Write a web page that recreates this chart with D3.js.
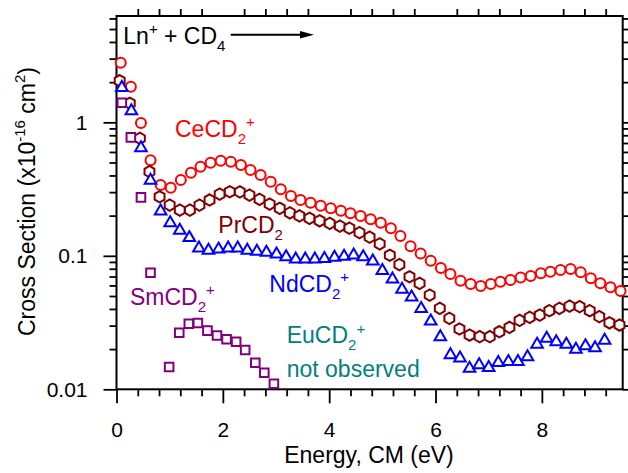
<!DOCTYPE html>
<html>
<head>
<meta charset="utf-8">
<script src="https://cdn.jsdelivr.net/npm/d3@7"></script>
<style>
    body { margin: 0; background: #fff; }
    svg { display: block; font-family: "Liberation Sans", Arial, sans-serif; }
</style>
</head>
<body>
<svg id="chart" width="628" height="473"></svg>
<script>
// cross sections (units of 1e-16 cm^2)
var ceEnergy = [0.08,0.27,0.46,0.64,0.83,1.02,1.21,1.40,1.58,1.77,1.96,2.15,2.34,2.52,2.71,2.90,3.09,3.28,3.46,3.65,3.84,4.03,4.22,4.40,4.59,4.78,4.97,5.16,5.34,5.53,5.72,5.91,6.10,6.28,6.47,6.66,6.85,7.04,7.22,7.41,7.60,7.79,7.98,8.16,8.35,8.54,8.73,8.92,9.10,9.29,9.48];
var ceSigma = [2.79,1.85,0.99,0.52,0.339,0.324,0.37,0.419,0.465,0.498,0.515,0.507,0.479,0.439,0.403,0.359,0.315,0.281,0.262,0.250,0.237,0.227,0.218,0.208,0.199,0.188,0.177,0.161,0.141,0.118,0.104,0.092,0.081,0.073,0.065,0.0615,0.0594,0.0615,0.064,0.0659,0.0688,0.0706,0.074,0.076,0.0783,0.0796,0.0752,0.0678,0.0622,0.0581,0.0545];

var prEnergy = [0.06,0.25,0.44,0.62,0.81,1.00,1.19,1.38,1.56,1.75,1.94,2.13,2.32,2.50,2.69,2.88,3.07,3.26,3.44,3.63,3.82,4.01,4.20,4.38,4.57,4.76,4.95,5.14,5.32,5.51,5.70,5.89,6.08,6.26,6.45,6.64,6.83,7.02,7.20,7.39,7.58,7.77,7.96,8.14,8.33,8.52,8.71,8.90,9.08,9.27,9.46];
var prSigma = [2.05,1.39,0.759,0.427,0.277,0.240,0.220,0.220,0.240,0.262,0.290,0.302,0.301,0.285,0.265,0.244,0.227,0.210,0.199,0.191,0.183,0.175,0.167,0.161,0.149,0.138,0.123,0.101,0.086,0.0697,0.0622,0.0508,0.0404,0.034,0.0283,0.0255,0.0248,0.0248,0.027,0.0291,0.0328,0.0346,0.036,0.0388,0.0404,0.042,0.0416,0.0388,0.035,0.0315,0.0303];

var ndEnergy = [0.10,0.28,0.46,0.64,0.83,1.01,1.19,1.37,1.55,1.73,1.92,2.10,2.28,2.46,2.64,2.82,3.01,3.19,3.37,3.55,3.73,3.91,4.10,4.28,4.46,4.64,4.82,5.00,5.19,5.37,5.55,5.73,5.91,6.09,6.28,6.46,6.64,6.82,7.00,7.18,7.37,7.55,7.73,7.91,8.09,8.27,8.46,8.64,8.82,9.00,9.18];
var ndSigma = [1.85,1.24,0.656,0.374,0.22,0.18,0.158,0.139,0.116,0.112,0.114,0.116,0.116,0.112,0.110,0.108,0.105,0.100,0.096,0.096,0.096,0.097,0.099,0.101,0.103,0.100,0.093,0.079,0.068,0.057,0.050,0.041,0.033,0.0251,0.0184,0.0174,0.0146,0.0155,0.0148,0.0161,0.0164,0.0164,0.0178,0.0221,0.0245,0.0231,0.0221,0.0203,0.0215,0.0208,0.0237];

var smEnergy = [0.10,0.27,0.46,0.64,0.99,1.18,1.36,1.53,1.71,1.89,2.07,2.25,2.42,2.61,2.78,2.96];
var smSigma = [1.40,0.772,0.274,0.0747,0.0147,0.0265,0.031,0.0314,0.0275,0.0253,0.0237,0.0227,0.0197,0.0158,0.0133,0.0110];

var xMajorTicks = [0, 2, 4, 6, 8];
var yMajorTicks = [0.01, 0.1, 1];
var yTickLabels = ["0.01", "0.1", "1"];

var svg = d3.select("#chart"),
    margin = {top: 16, right: 5.3, bottom: 83.7, left: 116.5},
    width = svg.attr("width") - margin.left - margin.right,
    height = svg.attr("height") - margin.top - margin.bottom;

var x = d3.scaleLinear().domain([0, 9.52]).range([0, width]),
    y = d3.scaleLog().domain([0.01, 6.26]).range([height, 0]);

var g = svg.append("g")
    .attr("transform", "translate(" + margin.left + "," + margin.top + ")");

// minor ticks
var xMinor = d3.range(0, 9.5, 0.4).map(function (d) { return +d.toFixed(1); })
    .filter(function (d) { return xMajorTicks.indexOf(d) < 0; });
var yMinor = [];
[0.01, 0.1, 1].forEach(function (dec) {
    for (var k = 2; k <= 9; k++) {
        if (dec * k <= 6.26) yMinor.push(dec * k);
    }
});

function styleAxis(sel) {
    sel.select(".domain").remove();
    sel.selectAll("line").attr("stroke", "#000").attr("stroke-width", 1.8);
    sel.selectAll("text").attr("fill", "#000").style("font-size", "21px")
        .style("font-family", "'Liberation Sans', Arial, sans-serif");
}

// bottom axis
g.append("g")
    .attr("transform", "translate(0," + height + ")")
    .call(d3.axisBottom(x).tickValues(xMajorTicks).tickSize(14).tickPadding(18.4).tickFormat(d3.format("d")))
    .call(styleAxis);
g.append("g")
    .attr("transform", "translate(0," + height + ")")
    .call(d3.axisBottom(x).tickValues(xMinor).tickSize(7).tickFormat(""))
    .call(styleAxis);

// top axis, minor ticks only
g.append("g")
    .call(d3.axisTop(x).tickValues(xMinor).tickSize(7).tickFormat(""))
    .call(styleAxis);

// left axis
g.append("g")
    .call(d3.axisLeft(y).tickValues(yMajorTicks).tickSize(13).tickPadding(16)
        .tickFormat(function (d, i) { return yTickLabels[i]; }))
    .call(styleAxis);
g.append("g")
    .call(d3.axisLeft(y).tickValues(yMinor).tickSize(7).tickFormat(""))
    .call(styleAxis);

// right axis
g.append("g")
    .attr("transform", "translate(" + width + ",0)")
    .call(d3.axisRight(y).tickValues(yMajorTicks).tickSize(13).tickFormat(""))
    .call(styleAxis);
g.append("g")
    .attr("transform", "translate(" + width + ",0)")
    .call(d3.axisRight(y).tickValues(yMinor).tickSize(7).tickFormat(""))
    .call(styleAxis);

// frame
g.append("rect")
    .attr("x", 0).attr("y", 0)
    .attr("width", width).attr("height", height)
    .attr("fill", "none")
    .attr("stroke", "#000")
    .attr("stroke-width", 2);

// helper for labels with sub / superscripts
// parts: [text, "n"|"sub"|"sup"]
function richText(parent, px, py, parts, color, size) {
    var t = parent.append("text")
        .attr("x", px).attr("y", py)
        .attr("fill", color)
        .style("font-size", size + "px");
    var cur = 0;
    parts.forEach(function (p) {
        var target = p[1] === "sub" ? 0.3 * size : (p[1] === "sup" ? -0.42 * size : 0);
        t.append("tspan")
            .attr("dy", target - cur)
            .style("font-size", (p[1] === "n" ? size : Math.round(size * 0.66)) + "px")
            .text(p[0]);
        cur = target;
    });
    return t;
}

// labels (drawn before the markers so markers sit on top)
var labels = svg.append("g").attr("class", "labels");
richText(labels, 123.3, 43.7, [["Ln", "n"], ["+", "sup"], [" + CD", "n"], ["4", "sub"]], "#000", 23);
richText(labels, 175, 136.7, [["CeCD", "n"], ["2", "sub"], ["+", "sup"]], "#ff0000", 23);
richText(labels, 218.3, 233.3, [["PrCD", "n"], ["2", "sub"]], "#800000", 23);
richText(labels, 269.3, 291.7, [["NdCD", "n"], ["2", "sub"], ["+", "sup"]], "#0000ff", 23);
richText(labels, 130, 305, [["SmCD", "n"], ["2", "sub"], ["+", "sup"]], "#800080", 23);
richText(labels, 286.7, 343.3, [["EuCD", "n"], ["2", "sub"], ["+", "sup"]], "#008080", 23);
richText(labels, 286.7, 376.7, [["not observed", "n"]], "#008080", 23);

// arrow next to the reaction
svg.append("line")
    .attr("x1", 230.7).attr("y1", 34.7)
    .attr("x2", 302).attr("y2", 34.7)
    .attr("stroke", "#000").attr("stroke-width", 2);
svg.append("path")
    .attr("d", "M314,34.7 L300,31 L300,38.4 Z")
    .attr("fill", "#000");

// axis titles
richText(svg.append("g").attr("transform", "translate(35,201.5) rotate(-90)"), 0, 0,
    [["Cross Section (x10", "n"], ["-16", "sup"], [" cm", "n"], ["2", "sup"], [")", "n"]], "#000", 23)
    .attr("text-anchor", "middle");

svg.append("text")
    .attr("x", 369).attr("y", 463)
    .attr("text-anchor", "middle")
    .style("font-size", "23px")
    .text("Energy, CM (eV)");

// marker paths
function hexPath(r) {
    var pts = d3.range(6).map(function (k) {
        var a = Math.PI / 180 * (60 * k - 90);
        return [r * Math.cos(a), r * Math.sin(a)];
    });
    return "M" + pts.join("L") + "Z";
}
var triPath = "M0,-5.6L5.8,4.4L-5.8,4.4Z";
var sqPath = "M-4.3,-4.3L4.3,-4.3L4.3,4.3L-4.3,4.3Z";

function zipSeries(xs, ys) {
    return xs.map(function (d, i) { return {e: d, s: ys[i]}; });
}

var series = [
    {name: "Ce", data: zipSeries(ceEnergy, ceSigma), color: "#ff0000", shape: "circle"},
    {name: "Pr", data: zipSeries(prEnergy, prSigma), color: "#800000", shape: hexPath(5.7)},
    {name: "Nd", data: zipSeries(ndEnergy, ndSigma), color: "#0000ff", shape: triPath},
    {name: "Sm", data: zipSeries(smEnergy, smSigma), color: "#800080", shape: sqPath}
];

series.forEach(function (s) {
    var grp = g.append("g").attr("class", "series-" + s.name);
    if (s.shape === "circle") {
        grp.selectAll("circle")
            .data(s.data)
            .join("circle")
            .attr("cx", d => x(d.e))
            .attr("cy", d => y(d.s))
            .attr("r", 5)
            .attr("fill", "#fff")
            .attr("stroke", s.color)
            .attr("stroke-width", 2);
    } else {
        grp.selectAll("path")
            .data(s.data)
            .join("path")
            .attr("d", s.shape)
            .attr("transform", d => "translate(" + x(d.e) + "," + y(d.s) + ")")
            .attr("fill", "#fff")
            .attr("stroke", s.color)
            .attr("stroke-width", 2)
            .attr("stroke-linejoin", "miter");
    }
});
</script>
</body>
</html>
